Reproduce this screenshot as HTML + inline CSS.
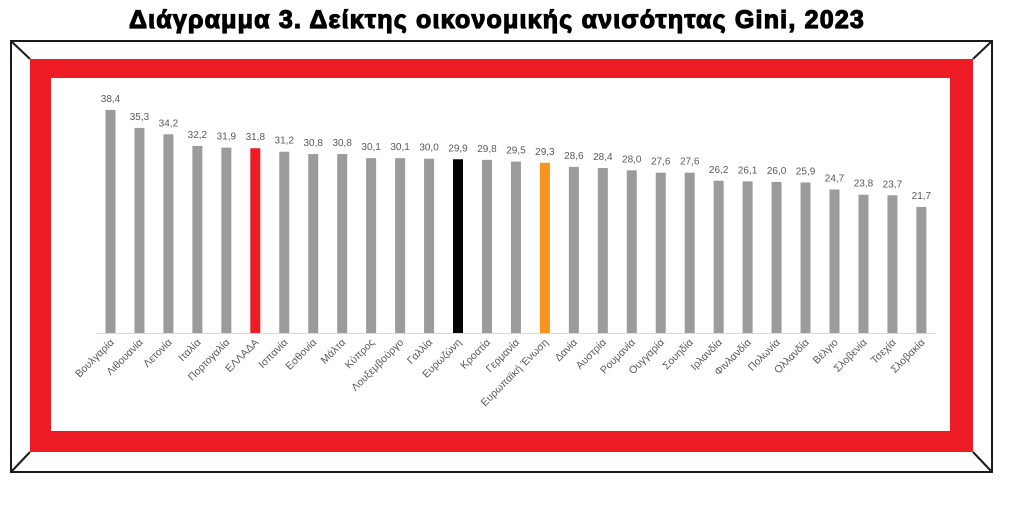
<!DOCTYPE html>
<html><head><meta charset="utf-8"><style>
body{margin:0;background:#fff;}
svg{display:block;}
</style></head><body>
<svg width="1009" height="510" viewBox="0 0 1009 510" xmlns="http://www.w3.org/2000/svg" font-family="Liberation Sans, DejaVu Sans, sans-serif">
<text x="497" y="28" text-anchor="middle" font-size="25" font-weight="bold" fill="#000" stroke="#000" stroke-width="1.2" letter-spacing="1.2">Διάγραμμα 3. Δείκτης οικονομικής ανισότητας Gini, 2023</text>
<rect x="11" y="41" width="981" height="431" fill="#fff" stroke="#1a1a1a" stroke-width="2"/>
<line x1="11" y1="41" x2="30" y2="59" stroke="#1a1a1a" stroke-width="2"/>
<line x1="992" y1="41" x2="973" y2="59" stroke="#1a1a1a" stroke-width="2"/>
<line x1="11" y1="472" x2="30" y2="452" stroke="#1a1a1a" stroke-width="2"/>
<line x1="992" y1="472" x2="973" y2="452" stroke="#1a1a1a" stroke-width="2"/>
<rect x="30" y="59" width="943" height="393" fill="#ed1c24"/>
<rect x="51" y="78" width="899" height="353" fill="#fff"/>
<line x1="97" y1="333.5" x2="935" y2="333.5" stroke="#d9d9d9" stroke-width="1"/>
<g id="bars"></g>
</svg>
<script>
var d=[["Βουλγαρία",38.4],["Λιθουανία",35.3],["Λετονία",34.2],["Ιταλία",32.2],["Πορτογαλία",31.9],["ΕΛΛΑΔΑ",31.8,"#ed1c24"],["Ισπανία",31.2],["Εσθονία",30.8],["Μάλτα",30.8],["Κύπρος",30.1],["Λουξεμβούργο",30.1],["Γαλλία",30.0],["Ευρωζώνη",29.9,"#000"],["Κροατία",29.8],["Γερμανία",29.5],["Ευρωπαϊκή Ένωση",29.3,"#f7941d"],["Δανία",28.6],["Αυστρία",28.4],["Ρουμανία",28.0],["Ουγγαρία",27.6],["Σουηδία",27.6],["Ιρλανδία",26.2],["Φινλανδία",26.1],["Πολωνία",26.0],["Ολλανδία",25.9],["Βέλγιο",24.7],["Σλοβενία",23.8],["Τσεχία",23.7],["Σλοβακία",21.7]];
var g=document.getElementById('bars'),h='';
d.forEach(function(r,i){var cx=110.5+i*28.96,bh=r[1]*5.81,top=333-bh;
h+='<rect x="'+(cx-5)+'" y="'+top+'" width="10" height="'+bh+'" fill="'+(r[2]||'#9b9b9b')+'"/>';
h+='<text x="'+cx+'" y="'+(top-8)+'" text-anchor="middle" font-size="10" fill="#595959">'+r[1].toFixed(1).replace('.',',')+'</text>';
h+='<text transform="translate('+(cx+4)+',343) rotate(-45)" text-anchor="end" font-size="10.5" fill="#595959">'+r[0]+'</text>';});
g.innerHTML=h;
</script>
</body></html>
